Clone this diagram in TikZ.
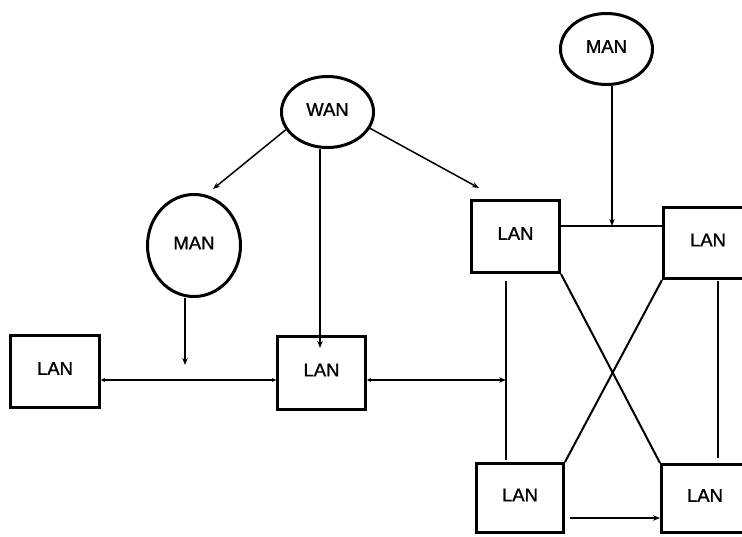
\documentclass[tikz,border=0pt]{standalone}
\usepackage{fontspec}
\setmainfont{Liberation Sans}
\newfontfamily\lblfont[FakeBold=1.2]{Liberation Sans}
\usetikzlibrary{arrows.meta,shapes.geometric}
\begin{document}
\begin{tikzpicture}[x=1pt,y=-1pt,
  lan/.style={draw,line width=3pt,rectangle,inner sep=0pt,font=\lblfont\fontsize{18.5}{20}\selectfont,text depth=6pt},
  net/.style={draw,line width=3pt,ellipse,inner sep=0pt,font=\lblfont\fontsize{18.5}{20}\selectfont,text depth=5pt},
  conn/.style={line width=1.5pt},
  tip/.style={-{Stealth[length=7pt,width=5.5pt]}},
  smalltips/.style={{Stealth[length=4pt,width=4pt]}-{Stealth[length=4pt,width=4pt]}},
  bustip/.style={{Stealth[length=4pt,width=4pt]}-{Stealth[length=7pt,width=5.5pt]}},
  crossline/.style={line width=2pt}]
\useasboundingbox (0,0) rectangle (742,537);
\clip (0,0) rectangle (742,537);
% networks
\node[net,minimum width=92pt,minimum height=71pt] (WAN) at (327.5,112) {WAN};
\node[net,minimum width=93pt,minimum height=102pt] (MANa) at (194,245.5) {MAN};
\node[net,minimum width=92pt,minimum height=71pt] (MANb) at (606.5,49) {MAN};
% LANs
\node[lan,minimum width=89pt,minimum height=72pt] (L1) at (55,371.5) {LAN};
\node[lan,minimum width=88pt,minimum height=73pt] (L2) at (321.5,373) {LAN};
\node[lan,minimum width=88pt,minimum height=72pt] (L3) at (515.5,236.5) {LAN};
\node[lan,minimum width=89pt,minimum height=71pt] (L4) at (708,243) {LAN};
\node[lan,minimum width=87pt,minimum height=69pt] (L5) at (520,498) {LAN};
\node[lan,minimum width=87pt,minimum height=68pt] (L6) at (705,498.5) {LAN};
% coordinates
\coordinate (t1) at (213,189);
\coordinate (t2) at (320,348);
\coordinate (t3) at (479,188);
\coordinate (t4) at (185,365);
\coordinate (b) at (185,380);
\coordinate (v1) at (506,380);
\coordinate (v1a) at (506,281);
\coordinate (v1b) at (506,460);
\coordinate (v2a) at (718,281);
\coordinate (v2b) at (718,458);
\coordinate (j) at (612,226);
\coordinate (k) at (570,518);
% connectors
\draw[conn,tip] (WAN.203) -- (t1);
\draw[conn,tip] (WAN.south -| t2) -- (t2);
\draw[conn,tip] (WAN.-21) -- (t3);
\draw[conn,tip] (MANa.south -| t4) -- (t4);
\draw[conn,smalltips] (L1.east |- b) -- (L2.west |- b);
\draw[conn,bustip] (L2.east |- b) -- (v1);
\draw[conn] (v1a) -- (v1b);
\draw[conn] (v2a) -- (v2b);
\draw[crossline] (L3.south east) -- (L6.north west);
\draw[crossline] (L4.south west) -- (L5.north east);
\draw[conn] (L3.east |- j) -- (L4.west |- j);
\draw[conn,tip] (MANb.south -| j) -- (j);
\draw[conn,tip] (k) -- (L6.west |- k);
\end{tikzpicture}
\end{document}
